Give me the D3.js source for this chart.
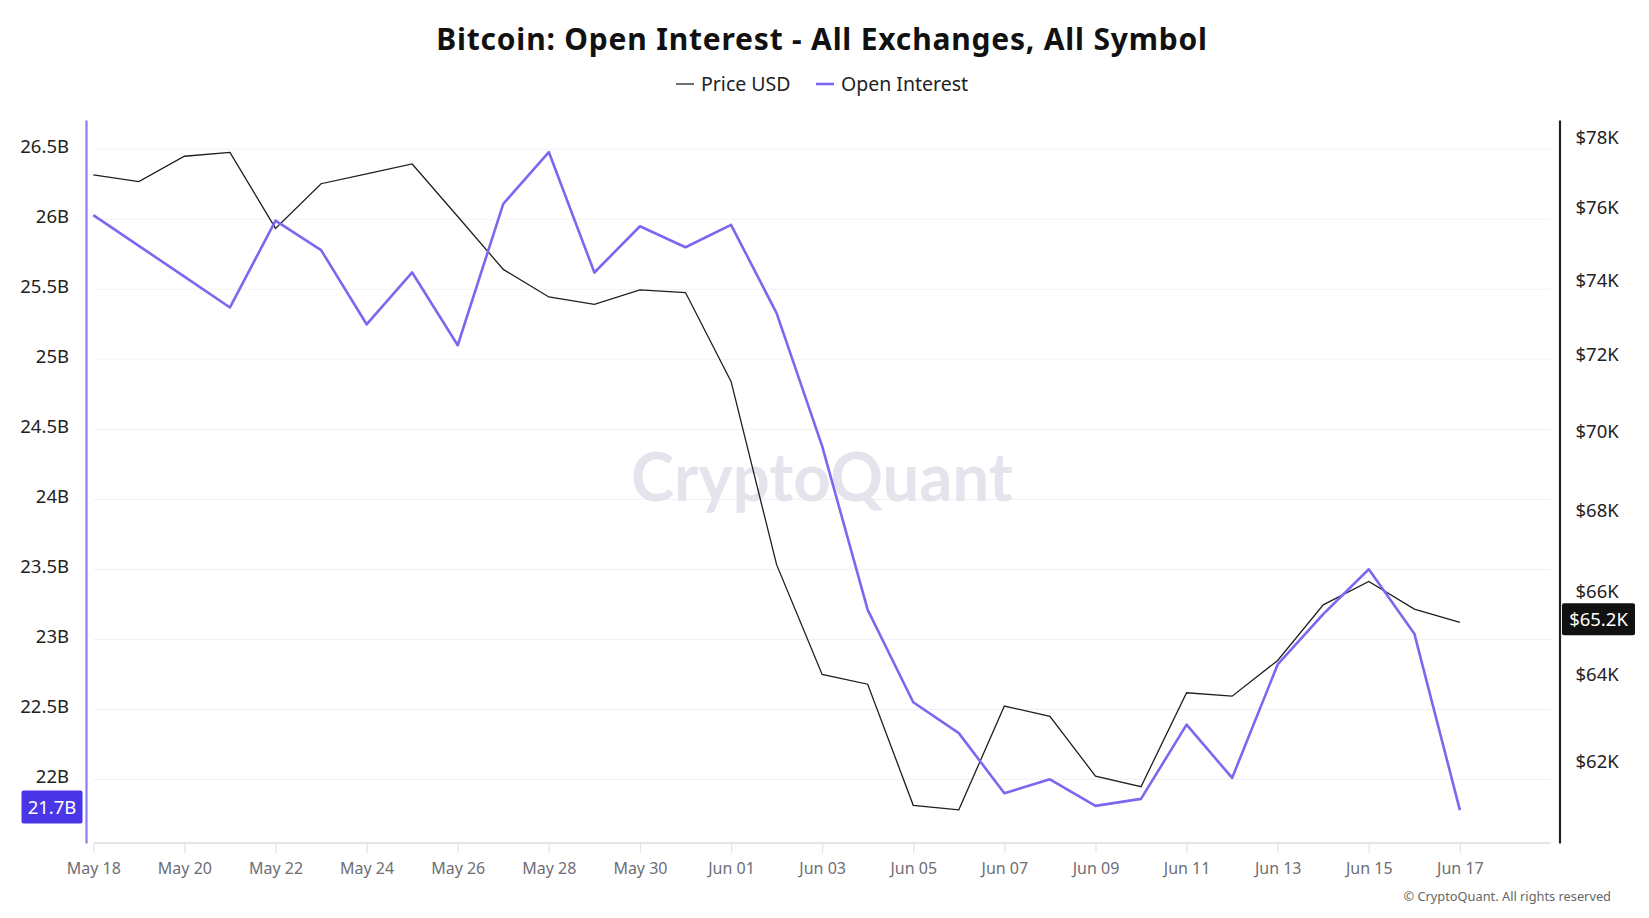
<!DOCTYPE html>
<html lang="en">
<head>
    <meta charset="UTF-8">
    <title>Bitcoin: Open Interest - All Exchanges, All Symbol</title>
    <style>
        html, body { margin: 0; padding: 0; background: #fff; }
        svg text { font-family: 'Noto Sans', 'Open Sans', sans-serif; }
    </style>
    <script src="https://d3js.org/d3.v7.min.js"></script>
</head>
<body>
    <svg width="1649" height="918"></svg>
    <script>
        // daily points, May 18 -> Jun 17
        const dates = [
            "2026-05-18", "2026-05-19", "2026-05-20", "2026-05-21", "2026-05-22", "2026-05-23",
            "2026-05-24", "2026-05-25", "2026-05-26", "2026-05-27", "2026-05-28", "2026-05-29",
            "2026-05-30", "2026-05-31", "2026-06-01", "2026-06-02", "2026-06-03", "2026-06-04",
            "2026-06-05", "2026-06-06", "2026-06-07", "2026-06-08", "2026-06-09", "2026-06-10",
            "2026-06-11", "2026-06-12", "2026-06-13", "2026-06-14", "2026-06-15", "2026-06-16",
            "2026-06-17"
        ];

        // BTC price, USD
        const priceUSD = [
            76930, 76740, 77460, 77570, 75430, 76680, 76960, 77240, 75760, 74300, 73550,
            73350, 73740, 73670, 71300, 66650, 64010, 63780, 61000, 60900, 63270, 63030,
            61660, 61420, 63580, 63500, 64340, 65670, 66240, 65570, 65250
        ];

        // open interest, billions USD
        const openInterest = [
            26.03, 25.81, 25.59, 25.37, 25.99, 25.78, 25.25, 25.62, 25.10, 26.11, 26.48,
            25.62, 25.95, 25.80, 25.96, 25.33, 24.38, 23.21, 22.55, 22.33, 21.90, 22.00,
            21.81, 21.86, 22.39, 22.01, 22.82, 23.18, 23.50, 23.04, 21.78
        ];

        const leftTicks = [22, 22.5, 23, 23.5, 24, 24.5, 25, 25.5, 26, 26.5];
        const rightTicks = [62000, 64000, 66000, 68000, 70000, 72000, 74000, 76000, 78000];

        const parse = d3.timeParse("%Y-%m-%d");
        const days = dates.map(parse);
        const data = days.map((d, i) => ({ date: d, price: priceUSD[i], oi: openInterest[i] }));

        const width = 1649, height = 918;
        const plotLeft = 93.3, plotRight = 1551, plotTop = 120, plotBottom = 843;
        const purple = "#7b68f0";

        const svg = d3.select("svg").attr("width", width).attr("height", height);

        const x = d3.scaleTime()
            .domain([days[0], d3.timeDay.offset(days[days.length - 1], 2)])
            .range([plotLeft, plotRight]);

        const yOI = d3.scaleLinear()
            .domain([21.545, 26.709])
            .range([plotBottom, plotTop]);

        const yPrice = d3.scaleLog()
            .domain([60160, 78500])
            .range([plotBottom, plotTop]);

        // gridlines
        svg.append("g")
            .selectAll("line")
            .data(leftTicks)
            .enter().append("line")
            .attr("x1", 94).attr("x2", plotRight)
            .attr("y1", d => yOI(d)).attr("y2", d => yOI(d))
            .attr("stroke", "#f2f2f4")
            .attr("stroke-width", 1.2);

        // watermark
        svg.append("text")
            .attr("x", 822)
            .attr("y", 475)
            .attr("text-anchor", "middle")
            .attr("dominant-baseline", "central")
            .attr("textLength", 382)
            .attr("lengthAdjust", "spacingAndGlyphs")
            .style("font-family", "Lato, 'Noto Sans', sans-serif")
            .style("font-size", "66px")
            .style("font-weight", "700")
            .style("fill", "#e4e4ec")
            .text("CryptoQuant");

        // x axis
        const xTicks = days.filter((d, i) => i % 2 === 0);
        const xAxis = svg.append("g")
            .attr("transform", `translate(0, ${plotBottom})`)
            .call(d3.axisBottom(x).tickValues(xTicks).tickFormat(d3.timeFormat("%b %d")).tickSize(10).tickSizeOuter(0));
        xAxis.select(".domain").attr("stroke", "#dcdce4").attr("stroke-width", 1.5)
            .attr("d", `M94,0H${plotRight}`);
        xAxis.selectAll(".tick line").attr("stroke", "#e2e2e8").attr("stroke-width", 1.2);
        xAxis.selectAll("text")
            .attr("dy", "0.35em")
            .attr("y", 25)
            .style("font-size", "16px")
            .style("fill", "#6e6e76");

        // left axis (open interest)
        const yLeftAxis = svg.append("g")
            .attr("transform", "translate(86, 0)")
            .call(d3.axisLeft(yOI).tickValues(leftTicks).tickFormat(d => d + "B").tickSize(0).tickPadding(17));
        yLeftAxis.select(".domain").attr("stroke", "#8b7cf6").attr("stroke-width", 2.2);
        yLeftAxis.selectAll("text")
            .attr("dy", "0.2em")
            .style("font-size", "18.5px")
            .style("fill", "#222");

        // right axis (price)
        const yRightAxis = svg.append("g")
            .attr("transform", "translate(1559.5, 0)")
            .call(d3.axisRight(yPrice).tickValues(rightTicks).tickFormat(d => "$" + (d / 1000) + "K").tickSize(0).tickPadding(16));
        yRightAxis.select(".domain").attr("stroke", "#222").attr("stroke-width", 2.2);
        yRightAxis.selectAll("text")
            .attr("dy", "0.32em")
            .style("font-size", "18.5px")
            .style("fill", "#222");

        // lines
        const priceLine = d3.line().x(d => x(d.date)).y(d => yPrice(d.price));
        const oiLine = d3.line().x(d => x(d.date)).y(d => yOI(d.oi));

        svg.append("path")
            .datum(data)
            .attr("d", priceLine)
            .attr("fill", "none")
            .attr("stroke", "#1e1e1e")
            .attr("stroke-width", 1.3);

        svg.append("path")
            .datum(data)
            .attr("d", oiLine)
            .attr("fill", "none")
            .attr("stroke", purple)
            .attr("stroke-width", 2.6)
            .attr("stroke-linejoin", "round");

        // last-value badges
        const last = data[data.length - 1];
        const trunc1 = v => (Math.floor(v * 10) / 10).toFixed(1);

        const oiBadge = svg.append("g").attr("transform", `translate(0, ${yOI(last.oi) - 3})`);
        oiBadge.append("rect")
            .attr("x", 21.5).attr("y", -16.5)
            .attr("width", 61).attr("height", 33)
            .attr("rx", 2)
            .attr("fill", "#4a36e6");
        oiBadge.append("text")
            .attr("x", 52).attr("y", 0)
            .attr("dy", "0.35em")
            .attr("text-anchor", "middle")
            .style("font-size", "18.5px")
            .style("fill", "#fff")
            .text(trunc1(last.oi) + "B");

        const priceBadge = svg.append("g").attr("transform", `translate(0, ${yPrice(last.price) - 3})`);
        priceBadge.append("rect")
            .attr("x", 1562).attr("y", -16)
            .attr("width", 73).attr("height", 32)
            .attr("rx", 2)
            .attr("fill", "#111");
        priceBadge.append("text")
            .attr("x", 1598.5).attr("y", 0)
            .attr("dy", "0.35em")
            .attr("text-anchor", "middle")
            .style("font-size", "18.5px")
            .style("fill", "#fff")
            .text("$" + trunc1(last.price / 1000) + "K");

        // title
        svg.append("text")
            .attr("x", 822)
            .attr("y", 39)
            .attr("dy", "0.35em")
            .attr("text-anchor", "middle")
            .style("font-size", "30px")
            .style("font-weight", "700")
            .style("letter-spacing", "0.8px")
            .style("fill", "#111")
            .text("Bitcoin: Open Interest - All Exchanges, All Symbol");

        // legend
        const legendItems = [
            { name: "Price USD", color: "#222", w: 1.3, x: 676 },
            { name: "Open Interest", color: purple, w: 2.6, x: 816 }
        ];
        const legend = svg.selectAll("g.legend")
            .data(legendItems)
            .enter().append("g")
            .attr("class", "legend")
            .attr("transform", d => `translate(${d.x}, 84)`);
        legend.append("line")
            .attr("x1", 0).attr("x2", 18)
            .attr("y1", 0).attr("y2", 0)
            .attr("stroke", d => d.color)
            .attr("stroke-width", d => d.w);
        legend.append("text")
            .attr("x", 25)
            .attr("dy", "0.35em")
            .style("font-size", "19.5px")
            .style("fill", "#222")
            .text(d => d.name);

        // copyright
        svg.append("text")
            .attr("x", 1611)
            .attr("y", 897)
            .attr("dy", "0.35em")
            .attr("text-anchor", "end")
            .style("font-size", "12.8px")
            .style("fill", "#666")
            .text("© CryptoQuant. All rights reserved");
    </script>
</body>
</html>
